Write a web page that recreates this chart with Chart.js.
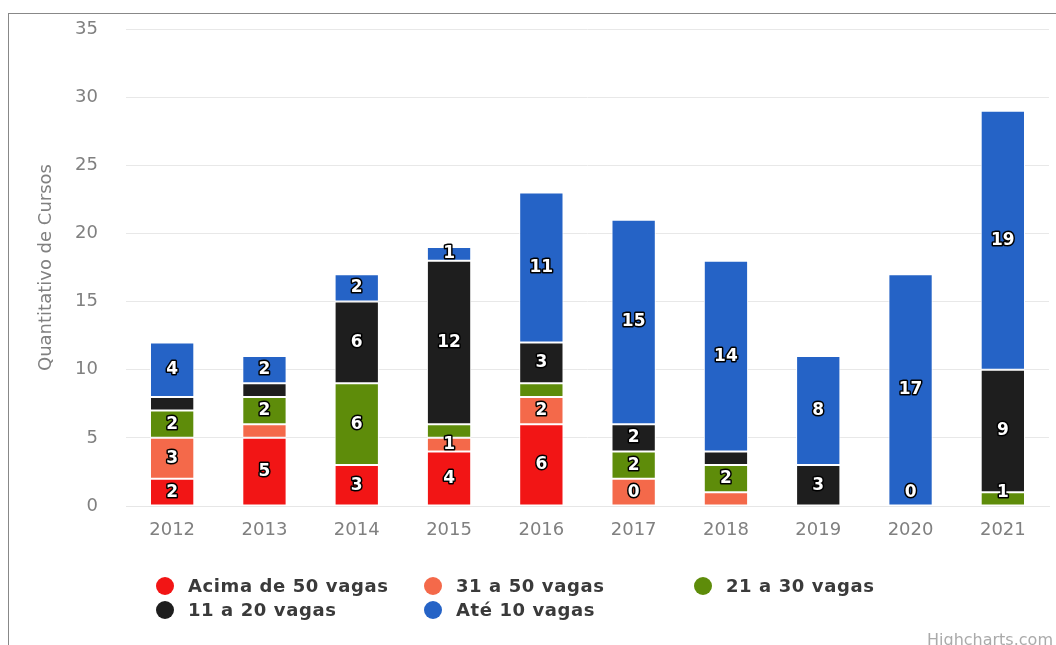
<!DOCTYPE html>
<html>
<head>
    <title>Quantitativo de Cursos</title>
    <script src="https://cdn.jsdelivr.net/npm/chart.js"></script>
    <style>
        body { margin: 0; background: #fff; font-family: "DejaVu Sans", sans-serif; }
        #frame { position: absolute; left: 8px; top: 13px; width: 1060px; height: 640px;
                 border-left: 1px solid #888; border-top: 1px solid #888; }
        #wrap { position: absolute; left: 0; top: 0; width: 1056px; height: 645px; }
        .leg { position: absolute; font-size: 18px; letter-spacing: 0.6px; font-weight: bold;
               color: #3a3a3a; white-space: nowrap; line-height: 22px; }
        .leg i { display: inline-block; width: 18px; height: 18px; border-radius: 50%;
                 vertical-align: -3px; margin-right: 14px; }
        #credit { position: absolute; left: 927px; top: 630px; font-size: 16px; color: #aaa; }
    </style>
</head>
<body>
    <div id="frame"></div>
    <div id="wrap"><canvas id="chart"></canvas></div>

    <div class="leg" style="left:156px;top:575px"><i style="background:#f21515"></i>Acima de 50 vagas</div>
    <div class="leg" style="left:424px;top:575px"><i style="background:#f4694a"></i>31 a 50 vagas</div>
    <div class="leg" style="left:694px;top:575px"><i style="background:#5e8c0a"></i>21 a 30 vagas</div>
    <div class="leg" style="left:156px;top:599px"><i style="background:#1e1e1e"></i>11 a 20 vagas</div>
    <div class="leg" style="left:424px;top:599px"><i style="background:#2563c6"></i>Até 10 vagas</div>
    <div id="credit">Highcharts.com</div>

    <script>
        // dados
        const anos = ['2012', '2013', '2014', '2015', '2016', '2017', '2018', '2019', '2020', '2021'];
        const acima50 = [2, 5, 3, 4, 6, 0, null, null, 0, null];
        const de31a50 = [3, 1, null, 1, 2, 2, 1, null, null, null];
        const de21a30 = [2, 2, 6, 1, 1, 2, 2, null, null, 1];
        const de11a20 = [1, 1, 6, 12, 3, 2, 1, 3, null, 9];
        const ate10 = [4, 2, 2, 1, 11, 15, 14, 8, 17, 19];
        const yTicks = [0, 5, 10, 15, 20, 25, 30, 35];

        // rótulos que o Highcharts escondeu (sobreposição)
        const escondidos = {
            1: [1, 5, 6],
            2: [3, 4],
            3: [0, 1, 6]
        };

        const rotulos = {
            id: 'rotulos',
            afterDatasetsDraw(chart) {
                const ctx = chart.ctx;
                const bottom = chart.chartArea.bottom;
                ctx.save();
                ctx.font = 'bold 17px "DejaVu Sans"';
                ctx.textAlign = 'center';
                ctx.textBaseline = 'middle';
                ctx.lineJoin = 'round';
                chart.data.datasets.forEach((ds, i) => {
                    const meta = chart.getDatasetMeta(i);
                    meta.data.forEach((bar, j) => {
                        const v = ds.data[j];
                        if (v === null) return;
                        if ((escondidos[i] || []).includes(j)) return;
                        let y = (bar.y + bar.base) / 2;
                        if (y > bottom - 13) y = bottom - 13;
                        ctx.strokeStyle = '#000';
                        ctx.lineWidth = 3;
                        ctx.strokeText(String(v), bar.x, y);
                        ctx.fillStyle = '#fff';
                        ctx.fillText(String(v), bar.x, y);
                    });
                });
                ctx.restore();
            }
        };

        const serie = (label, data, cor) => ({
            label: label, data: data, backgroundColor: cor,
            borderColor: '#fff', borderWidth: 1, borderSkipped: false
        });

        new Chart(document.getElementById('chart'), {
            type: 'bar',
            data: {
                labels: anos,
                datasets: [
                    serie('Acima de 50 vagas', acima50, '#f21515'),
                    serie('31 a 50 vagas', de31a50, '#f4694a'),
                    serie('21 a 30 vagas', de21a30, '#5e8c0a'),
                    serie('11 a 20 vagas', de11a20, '#1e1e1e'),
                    serie('Até 10 vagas', ate10, '#2563c6')
                ]
            },
            options: {
                responsive: true,
                maintainAspectRatio: false,
                animation: false,
                layout: { padding: { top: 29, right: 7, bottom: 100, left: 0 } },
                datasets: { bar: { categoryPercentage: 1, barPercentage: 0.48 } },
                plugins: { legend: { display: false }, tooltip: { enabled: false } },
                scales: {
                    x: {
                        stacked: true,
                        grid: { display: false, drawTicks: false },
                        border: { color: '#e6e6e6' },
                        ticks: { color: '#808080', font: { family: 'DejaVu Sans', size: 18 }, padding: 14 },
                        afterFit(s) { s.height = 39; s.paddingLeft = 0; s.paddingRight = 0; }
                    },
                    y: {
                        stacked: true,
                        min: 0, max: 35,
                        afterBuildTicks(s) { s.ticks = yTicks.map(v => ({ value: v })); },
                        grid: { color: '#e8e8e8', drawTicks: false },
                        border: { display: false },
                        ticks: { color: '#808080', font: { family: 'DejaVu Sans', size: 18 }, padding: 28 },
                        title: {
                            display: true, text: 'Quantitativo de Cursos', color: '#808080',
                            font: { family: 'DejaVu Sans', size: 18 }, padding: { top: 36, bottom: 0 }
                        },
                        afterFit(s) { s.width = 126; s.paddingTop = 0; s.paddingBottom = 0; }
                    }
                }
            },
            plugins: [rotulos]
        });
    </script>
</body>
</html>
